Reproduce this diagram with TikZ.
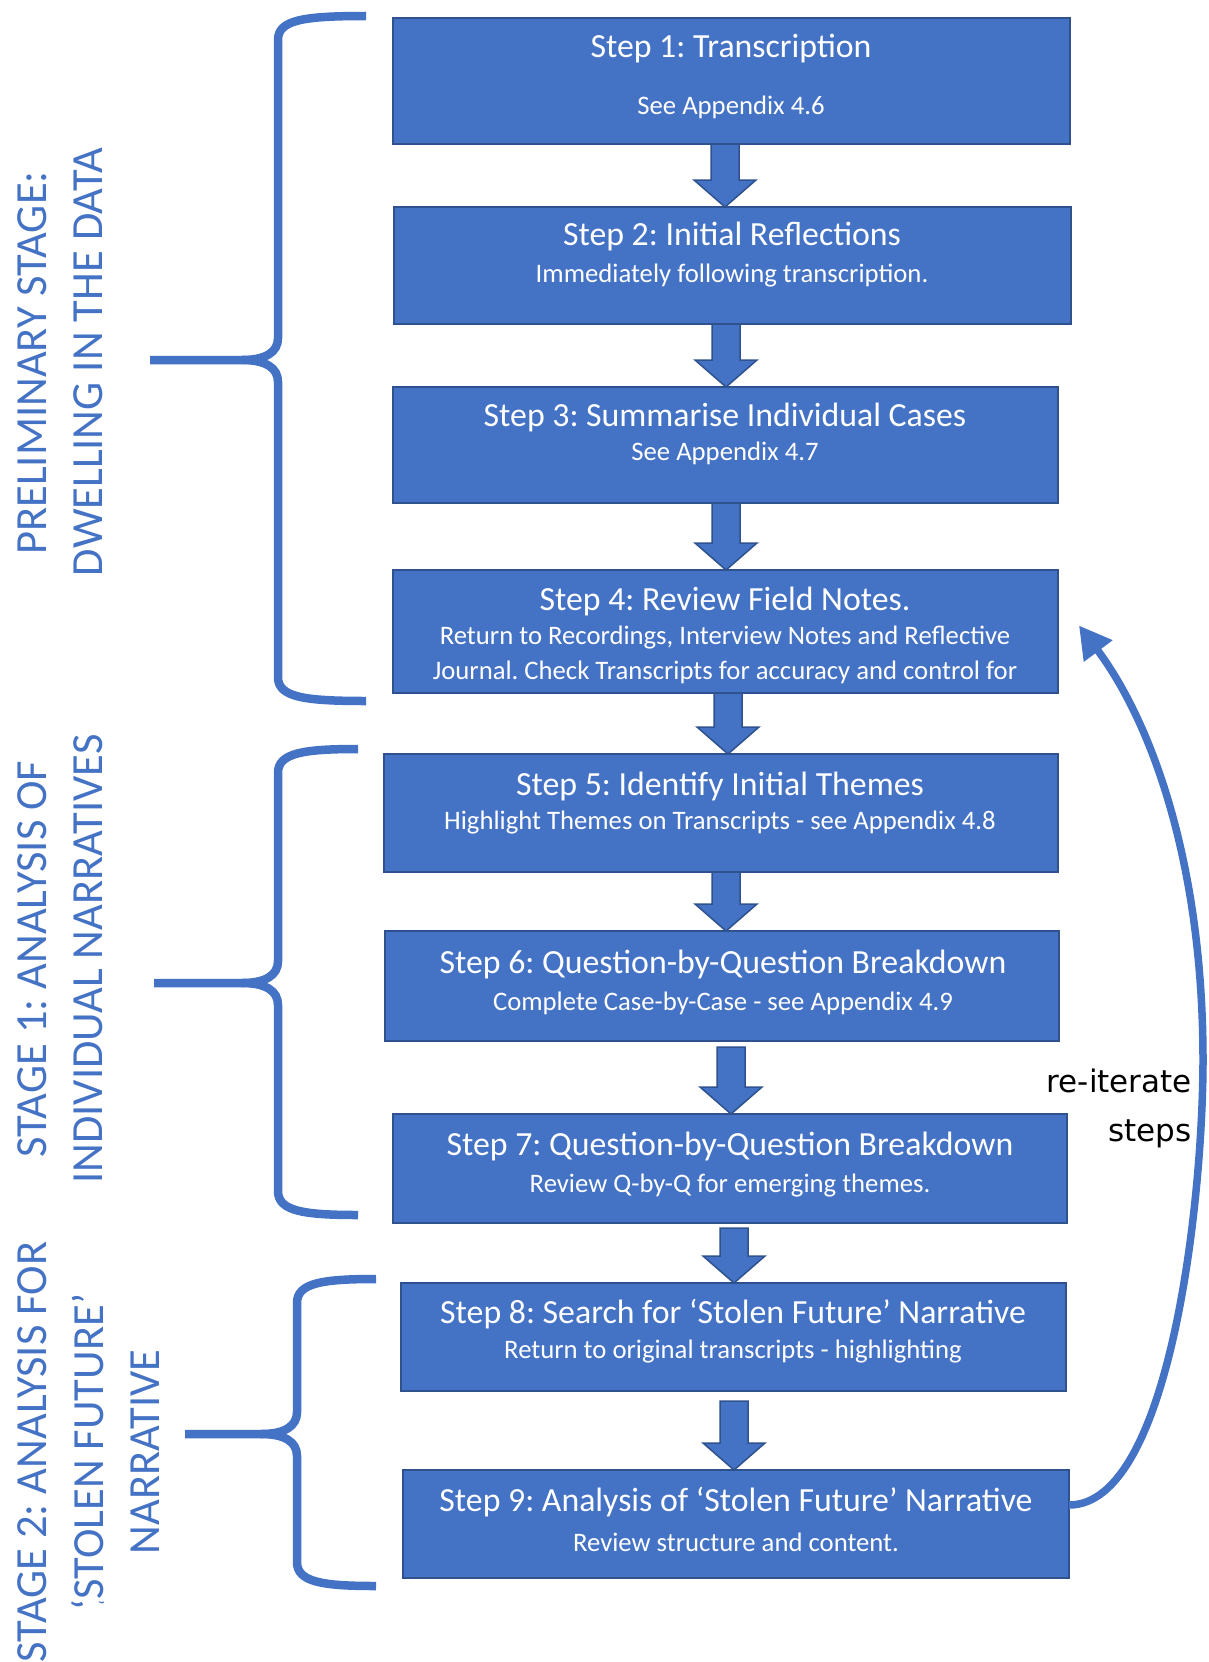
\documentclass[tikz,border=0pt]{standalone}
\usepackage{fontspec}
\setmainfont{Carlito}
\newfontfamily\dejavu{DejaVu Sans}
\usetikzlibrary{arrows.meta,calc}
\definecolor{boxblue}{HTML}{4472C4}
\definecolor{boxedge}{HTML}{2F528F}
\frenchspacing
\newcommand\blockarrow[2]{%
  \draw[barrowst] ($(#1)+(-14,0)$) -- ($(#1)+(14,0)$) -- ($(#2)+(14,-27)$) -- ($(#2)+(31,-27)$) -- (#2) -- ($(#2)+(-31,-27)$) -- ($(#2)+(-14,-27)$) -- cycle;}
\newcommand\bracedraw[6]{% xe, y0, xv, ym, xt, y1
  \draw[bracest] (#1,#2) .. controls ({#3+25},#2) and (#3,{#2+4}) .. (#3,{#2+24}) -- (#3,{#4-22}) .. controls (#3,{#4-8}) and ({#3-12},#4) .. ({#3-36},#4) -- (#5,#4);
  \draw[bracest] (#1,#6) .. controls ({#3+25},#6) and (#3,{#6-4}) .. (#3,{#6-24}) -- (#3,{#4+22}) .. controls (#3,{#4+8}) and ({#3-12},#4) .. ({#3-36},#4);}
\begin{document}
\frenchspacing
\begin{tikzpicture}[x=1pt,y=-1pt,
  stepbox/.style={draw=boxedge, line width=2pt, fill=boxblue, inner sep=0pt, outer sep=0pt},
  ttl/.style={text=white, font=\fontsize{33.8}{40}\selectfont, inner sep=0pt},
  sub/.style={text=white, font=\fontsize{26.7}{31}\selectfont, inner sep=0pt},
  barrowst/.style={draw=boxedge, line width=1.5pt, fill=boxblue, line join=miter},
  bracest/.style={draw=boxblue, line width=8.5pt, line cap=butt},
  stage/.style={text=boxblue, font=\fontsize{44.5}{52}\selectfont, rotate=90, inner sep=0pt},
  note/.style={text=black, font=\dejavu\fontsize{31}{37}\selectfont, inner sep=0pt, anchor=east}]
\useasboundingbox (0,0) rectangle (1208,1662);
\fill[white] (0,0) rectangle (1208,1662);

% boxes
\node[stepbox, minimum width=677, minimum height=126] (b1) at (731.5,81) {};
\node[stepbox, minimum width=677, minimum height=117] (b2) at (732.5,265.5) {};
\node[stepbox, minimum width=665, minimum height=116] (b3) at (725.5,445) {};
\node[stepbox, minimum width=665, minimum height=123] (b4) at (725.5,631.5) {};
\node[stepbox, minimum width=674, minimum height=118] (b5) at (721,813) {};
\node[stepbox, minimum width=674, minimum height=110] (b6) at (722,986) {};
\node[stepbox, minimum width=674, minimum height=109] (b7) at (730,1168.5) {};
\node[stepbox, minimum width=665, minimum height=108] (b8) at (733.5,1337) {};
\node[stepbox, minimum width=666, minimum height=108] (b9) at (736,1524) {};

% texts
\node[ttl] (t1) at (731,49) {Step 1: Transcription};
\node[sub] (s1) at (731,107) {See Appendix 4.6};
\node[ttl] (t2) at (732,236) {Step 2: Initial Reflections};
\node[sub] (s2) at (732,275.5) {Immediately following transcription.};
\node[ttl] (t3) at (725,417.5) {Step 3: Summarise Individual Cases};
\node[sub] (s3) at (725,453.5) {See Appendix 4.7};
\node[ttl] (t4) at (725,601) {Step 4: Review Field Notes.};
\node[sub] (s4a) at (725,638) {Return to Recordings, Interview Notes and Reflective};
\node[sub] (s4b) at (725,672) {Journal. Check Transcripts for accuracy and control for};
\node[ttl] (t5) at (720,786) {Step 5: Identify Initial Themes};
\node[sub] (s5) at (720,823) {Highlight Themes on Transcripts - see Appendix 4.8};
\node[ttl] (t6) at (723,964) {Step 6: Question-by-Question Breakdown};
\node[sub] (s6) at (723,1003) {Complete Case-by-Case - see Appendix 4.9};
\node[ttl] (t7) at (730,1146.5) {Step 7: Question-by-Question Breakdown};
\node[sub] (s7) at (730,1186) {Review Q-by-Q for emerging themes.};
\node[ttl] (t8) at (733,1314) {Step 8: Search for ‘Stolen Future’ Narrative};
\node[sub] (s8) at (733,1352) {Return to original transcripts - highlighting};
\node[ttl] (t9) at (736,1502.5) {Step 9: Analysis of ‘Stolen Future’ Narrative};
\node[sub] (s9) at (736,1542) {Review structure and content.};

% block arrows
\path (b1.south) ++(-6.5,0) coordinate (a1s); \coordinate (a1e) at (a1s |- b2.north);
\path (b2.south) ++(-6.5,0) coordinate (a2s); \coordinate (a2e) at (a2s |- b3.north);
\path (b3.south) ++(0.5,0) coordinate (a3s); \coordinate (a3e) at (a3s |- b4.north);
\path (b4.south) ++(2.5,0) coordinate (a4s); \coordinate (a4e) at (a4s |- b5.north);
\path (b5.south) ++(5,0) coordinate (a5s); \coordinate (a5e) at (a5s |- b6.north);
\path (b6.south) ++(9,6) coordinate (a6s); \coordinate (a6e) at (a6s |- b7.north);
\path (b7.south) ++(4,5) coordinate (a7s); \coordinate (a7e) at (a7s |- b8.north);
\path (b8.south) ++(0.5,10) coordinate (a8s); \coordinate (a8e) at (a8s |- b9.north);
\blockarrow{a1s}{a1e}
\blockarrow{a2s}{a2e}
\blockarrow{a3s}{a3e}
\blockarrow{a4s}{a4e}
\blockarrow{a5s}{a5e}
\blockarrow{a6s}{a6e}
\blockarrow{a7s}{a7e}
\blockarrow{a8s}{a8e}

% braces
\bracedraw{366}{16}{278}{360}{150}{701}
\bracedraw{358}{749}{278}{983}{154}{1215}
\bracedraw{376}{1279}{297}{1434}{185}{1586}

% stage labels
\node[stage] (p1) at (32,363) {PRELIMINARY STAGE:};
\node[stage] (p2) at (88,362) {DWELLING IN THE DATA};
\node[stage] (q1) at (32,959) {STAGE 1: ANALYSIS OF};
\node[stage] (q2) at (88,959) {INDIVIDUAL NARRATIVES};
\node[stage] (r1) at (32,1452) {STAGE 2: ANALYSIS FOR};
\node[stage] (r2) at (88,1452) {‘STOLEN FUTURE’};
\node[stage] (r3) at (145,1452) {NARRATIVE};
\node[text=boxblue, font=\fontsize{20}{24}\selectfont, rotate=90, inner sep=0pt] (rq) at (106,1603) {‘};

% re-iterate loop
\path (b9.east) ++(0,-19) coordinate (l0);
\path (b4.east) ++(21,-6) coordinate (l1);
\coordinate (lm) at (1203,1060);
\draw[boxblue, line width=7.5pt, -{Triangle[length=32,width=34]}]
  (l0) .. controls (1170,1505) and (1203,1200) .. (lm)
       .. controls (1203,860) and (1150,720) .. (l1);
\node[note] (n1) at (1192,1081) {re-iterate};
\node[note] (n2) at (1192,1134) {steps};
\end{tikzpicture}
\end{document}
